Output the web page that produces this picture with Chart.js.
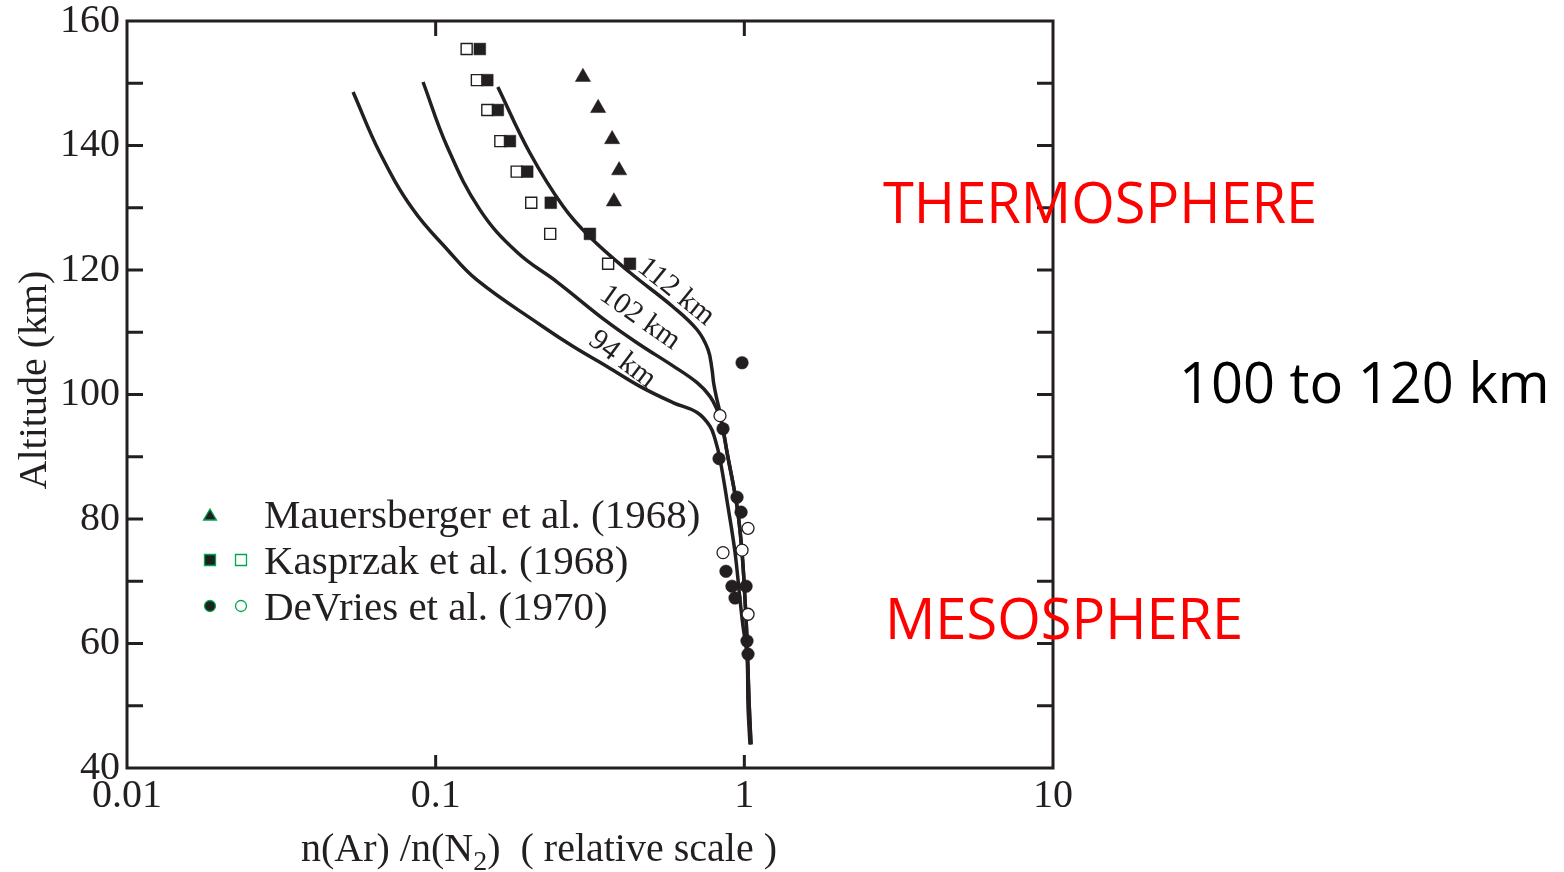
<!DOCTYPE html>
<html><head><meta charset="utf-8">
<script src="https://cdn.jsdelivr.net/npm/chart.js@4/dist/chart.umd.min.js"></script>
<style>html,body{margin:0;padding:0;background:#fff}canvas{display:block}</style>
</head><body>
<canvas id="c" width="1564" height="872"></canvas>
<script>
// ---- data ----
const xTickValues = [0.01, 0.1, 1, 10];
const xTickLabels = ['0.01', '0.1', '1', '10'];
const yTickMarks = [50, 60, 70, 80, 90, 100, 110, 120, 130, 140, 150];

const curve112 = [[0.159,149.4],[0.202,138.8],[0.259,130.2],[0.316,125.3],[0.426,119.6],[0.587,114.1],[0.703,110.4],[0.763,107.2],[0.786,104.0],[0.795,101.9],[0.815,99.2],[0.834,97.1],[0.847,95.2],[0.879,90.7],[0.947,82.0],[0.983,74.6],[1.005,67.1],[1.020,60.7],[1.035,51.1],[1.051,43.8]];
const curve102 = [[0.091,150.2],[0.109,139.8],[0.139,129.7],[0.184,122.8],[0.247,118.1],[0.359,111.7],[0.459,108.0],[0.587,104.6],[0.703,101.9],[0.774,99.7],[0.815,97.6],[0.847,95.2],[0.879,90.7],[0.947,82.0],[0.983,74.6],[1.005,67.1],[1.020,60.7],[1.035,51.1],[1.051,43.8]];
const curve94 = [[0.054,148.6],[0.066,138.8],[0.0845,129.7],[0.109,123.3],[0.136,118.4],[0.218,111.2],[0.279,107.7],[0.359,104.5],[0.459,101.3],[0.587,98.7],[0.703,97.1],[0.774,94.9],[0.804,92.8],[0.834,89.6],[0.885,82.0],[0.933,74.6],[0.968,67.1],[0.990,62.8],[1.020,58.0],[1.028,49.9],[1.043,43.8]];

const mauersberger = [[0.300,151],[0.336,146],[0.373,141],[0.393,136],[0.378,131]];
const kasprzakFilled = [[0.139,155.5],[0.147,150.5],[0.159,145.7],[0.174,140.7],[0.198,135.8],[0.236,130.8],[0.316,125.8],[0.426,121.0]];
const kasprzakOpen = [[0.126,155.5],[0.136,150.5],[0.147,145.7],[0.162,140.7],[0.183,135.8],[0.204,130.8],[0.235,125.8],[0.362,121.0]];
const devriesFilled = [[0.983,105.1],[0.853,94.5],[0.828,89.7],[0.947,83.5],[0.976,81.1],[0.872,71.6],[0.912,69.2],[1.013,69.2],[0.933,67.3],[1.020,60.4],[1.028,58.3]];
const devriesOpen = [[0.834,96.6],[1.028,78.5],[0.853,74.6],[0.983,75.0],[1.028,64.7]];

const curveLabels = ['112 km', '102 km', '94 km'];
const curveLabelPos = [[0.601,116.5],[0.459,112.3],[0.402,105.6]];
const curveLabelAngle = [39, 35, 37];

const legendLabels = ['Mauersberger et al. (1968)', 'Kasprzak et al. (1968)', 'DeVries et al. (1970)'];
const yTitle = 'Altitude (km)';
const xTitleParts = ['n(Ar) /n(N', '2', ')  ( relative scale )'];
const regionLabels = ['THERMOSPHERE', 'MESOSPHERE'];
const rangeLabel = '100 to 120 km';

// ---- helpers ----
const toXY = arr => arr.map(p => ({x: p[0], y: p[1]}));
const INK = '#231f20';
const SERIF = '"Liberation Serif", "Times New Roman", serif';

const lineDs = (d) => ({type: 'line', data: toXY(d), showLine: true, borderColor: INK, borderWidth: 3.5, pointRadius: 0, tension: 0.4, fill: false, order: 2, clip: false});

const overlay = {
  id: 'overlay',
  afterDatasetsDraw(chart) {
    const ctx = chart.ctx, xs = chart.scales.x, ys = chart.scales.y, a = chart.chartArea;
    ctx.save();
    // frame
    ctx.strokeStyle = INK; ctx.lineWidth = 3;
    ctx.strokeRect(a.left, a.top, a.right - a.left, a.bottom - a.top);
    // tick marks (inside)
    ctx.beginPath();
    yTickMarks.forEach(v => {
      const y = ys.getPixelForValue(v);
      ctx.moveTo(a.left, y); ctx.lineTo(a.left + 16, y);
      ctx.moveTo(a.right, y); ctx.lineTo(a.right - 16, y);
    });
    [0.1, 1].forEach(v => {
      const x = xs.getPixelForValue(v);
      ctx.moveTo(x, a.bottom); ctx.lineTo(x, a.bottom - 13);
      ctx.moveTo(x, a.top); ctx.lineTo(x, a.top + 15);
    });
    ctx.stroke();
    // curve labels
    ctx.fillStyle = INK; ctx.font = '30px ' + SERIF;
    ctx.textAlign = 'center'; ctx.textBaseline = 'middle';
    curveLabels.forEach((t, i) => {
      const x = xs.getPixelForValue(curveLabelPos[i][0]);
      const y = ys.getPixelForValue(curveLabelPos[i][1]);
      ctx.save(); ctx.translate(x, y); ctx.rotate(curveLabelAngle[i] * Math.PI / 180);
      ctx.fillText(t, 0, 0); ctx.restore();
    });
    // legend
    const green = '#00a651';
    const drawMarker = (style, x, y, filled) => {
      ctx.beginPath();
      if (style === 'tri') { ctx.moveTo(x, y - 6); ctx.lineTo(x + 6.5, y + 5); ctx.lineTo(x - 6.5, y + 5); ctx.closePath(); }
      else if (style === 'rect') { ctx.rect(x - 5.5, y - 5.5, 11, 11); }
      else { ctx.arc(x, y, 5.5, 0, Math.PI * 2); }
      ctx.fillStyle = filled ? INK : '#fff'; ctx.fill();
      ctx.strokeStyle = green; ctx.lineWidth = 1.3; ctx.stroke();
    };
    drawMarker('tri', 210, 515, true);
    drawMarker('rect', 210, 560, true); drawMarker('rect', 241, 560, false);
    drawMarker('circ', 210, 606, true); drawMarker('circ', 241, 606, false);
    ctx.fillStyle = INK; ctx.font = '41px ' + SERIF; ctx.textAlign = 'left'; ctx.textBaseline = 'alphabetic';
    legendLabels.forEach((t, i) => ctx.fillText(t, 264, 528 + i * 46));
    // y title
    ctx.save(); ctx.translate(46, 380); ctx.rotate(-Math.PI / 2);
    ctx.textAlign = 'center'; ctx.font = '40px ' + SERIF; ctx.fillText(yTitle, 0, 0); ctx.restore();
    // x title with subscript
    ctx.font = '40px ' + SERIF; ctx.textAlign = 'left';
    let xx = 301; const by = 861;
    ctx.fillText(xTitleParts[0], xx, by); xx += ctx.measureText(xTitleParts[0]).width;
    ctx.font = '28px ' + SERIF; ctx.fillText(xTitleParts[1], xx, by + 9); xx += ctx.measureText(xTitleParts[1]).width;
    ctx.font = '40px ' + SERIF; ctx.fillText(xTitleParts[2], xx, by);
    // annotations
    ctx.font = '56px "Open Sans", "Noto Sans", sans-serif';
    ctx.fillStyle = '#ff0000';
    ctx.fillText(regionLabels[0], 883, 223);
    ctx.fillText(regionLabels[1], 885, 639);
    ctx.fillStyle = '#000';
    ctx.fillText(rangeLabel, 1179, 403);
    ctx.restore();
  }
};

new Chart(document.getElementById('c'), {
  type: 'scatter',
  data: {
    datasets: [
      {data: toXY(mauersberger), pointStyle: 'triangle', pointRadius: 8.8, backgroundColor: INK, borderColor: INK, borderWidth: 0.5, order: 0},
      {data: toXY(kasprzakFilled), pointStyle: 'rect', pointRadius: 8.3, backgroundColor: INK, borderColor: INK, borderWidth: 0.5, order: 0},
      {data: toXY(kasprzakOpen), pointStyle: 'rect', pointRadius: 7.8, backgroundColor: '#fff', borderColor: INK, borderWidth: 1.4, order: 0},
      {data: toXY(devriesFilled), pointStyle: 'circle', pointRadius: 6.3, backgroundColor: INK, borderColor: INK, borderWidth: 0.5, order: 0},
      {data: toXY(devriesOpen), pointStyle: 'circle', pointRadius: 6, backgroundColor: '#fff', borderColor: INK, borderWidth: 1.3, order: 0},
      lineDs(curve112), lineDs(curve102), lineDs(curve94)
    ]
  },
  options: {
    responsive: false, animation: false, devicePixelRatio: 1,
    layout: {padding: {left: 0, right: 511, top: 21, bottom: 0}},
    plugins: {legend: {display: false}, tooltip: {enabled: false}},
    elements: {point: {hoverRadius: 0}},
    scales: {
      x: {
        type: 'logarithmic', min: 0.01, max: 10,
        grid: {display: false, drawTicks: false}, border: {display: false},
        afterBuildTicks: s => { s.ticks = xTickValues.map(v => ({value: v})); },
        afterFit: s => { s.height = 104; s.paddingLeft = 0; s.paddingRight = 0; },
        ticks: {color: INK, font: {family: SERIF, size: 40}, padding: 4, maxRotation: 0, autoSkip: false,
          callback: (v) => { const i = xTickValues.indexOf(v); return i >= 0 ? xTickLabels[i] : ''; }}
      },
      y: {
        type: 'linear', min: 40, max: 160,
        grid: {display: false, drawTicks: false}, border: {display: false},
        afterFit: s => { s.width = 127; s.paddingTop = 0; s.paddingBottom = 0; },
        ticks: {stepSize: 20, color: INK, font: {family: SERIF, size: 40}, padding: 7}
      }
    }
  },
  plugins: [overlay]
});
</script>
</body></html>
